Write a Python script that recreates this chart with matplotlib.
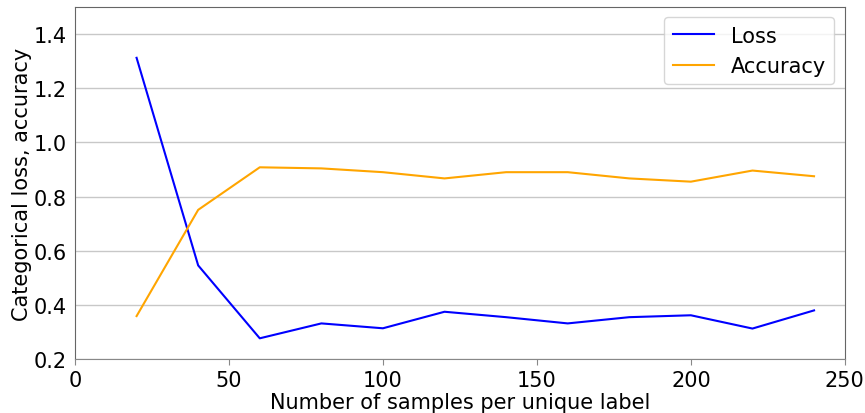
import matplotlib
matplotlib.use('Agg')
import matplotlib.pyplot as plt

samples = [20, 40, 60, 80, 100, 120, 140, 160, 180, 200, 220, 240]
loss = [1.312, 0.546, 0.277, 0.332, 0.314, 0.375, 0.355, 0.332, 0.355, 0.362, 0.313, 0.380]
accuracy = [0.359, 0.751, 0.908, 0.904, 0.890, 0.867, 0.890, 0.890, 0.867, 0.855, 0.896, 0.875]

plt.rcParams['font.size'] = 15

fig = plt.figure(figsize=(8.65, 4.14), dpi=100)
ax = fig.add_axes([0.0867, 0.130, 0.890, 0.851])

ax.plot(samples, loss, color='blue', lw=1.5, label='Loss')
ax.plot(samples, accuracy, color='orange', lw=1.5, label='Accuracy')

ax.set_xlim(0, 250)
ax.set_ylim(0.2, 1.5)
ax.set_yticks([0.2, 0.4, 0.6, 0.8, 1.0, 1.2, 1.4])
ax.yaxis.grid(True, color='#c8c8c8', lw=1)
ax.set_axisbelow(True)
for s in ax.spines.values():
    s.set_color('#666666')
ax.spines['bottom'].set_color('#888888')
ax.tick_params(axis='y', length=0, pad=6)
ax.tick_params(axis='x', length=4, color='#888888')

ax.set_xlabel('Number of samples per unique label', labelpad=2)
ax.set_ylabel('Categorical loss, accuracy', labelpad=1)
ax.legend(loc='upper right', fontsize=15)

fig.savefig('out.png', dpi=100)
